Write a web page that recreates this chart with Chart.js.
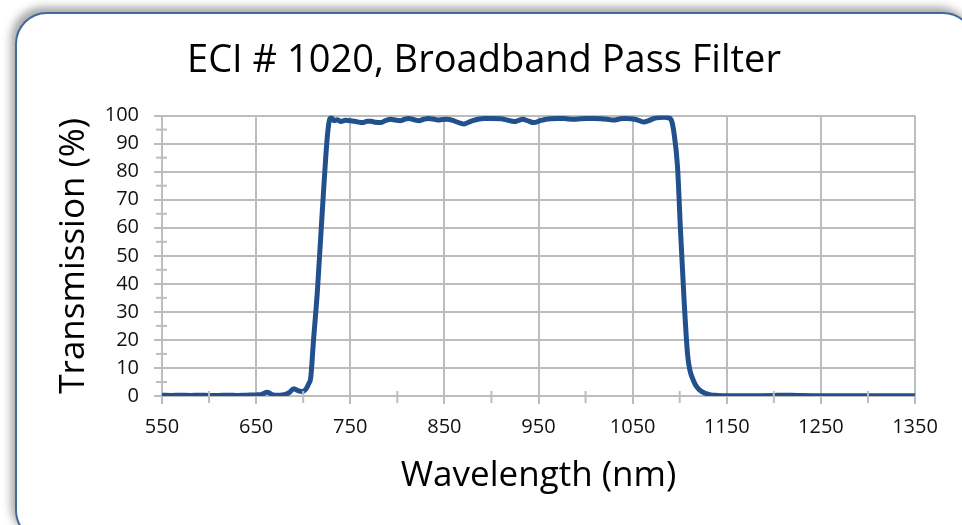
<!DOCTYPE html>
<html>
<head>
<meta charset="utf-8">
<script src="https://cdn.jsdelivr.net/npm/chart.js@4/dist/chart.umd.min.js"></script>
<style>
  html, body { margin: 0; padding: 0; background: #ffffff; }
  body { width: 962px; height: 525px; position: relative; overflow: hidden; }
  .frame {
    position: absolute; left: 15px; top: 12px; width: 960px; height: 530px;
    box-sizing: border-box; border: 2px solid #41699b; border-radius: 32px;
    background: #fff; box-shadow: -4px -5px 9px rgba(0,0,0,0.35);
  }
  #wrap { position: absolute; left: 0; top: 0; width: 962px; height: 525px; }
</style>
</head>
<body>
<div class="frame"></div>
<div id="wrap"><canvas id="filterChart"></canvas></div>
<script>
const wavelengths = [550, 560, 570, 580, 590, 600, 610, 620, 630, 640, 650, 655, 662, 668, 675, 680, 685, 690, 695, 699,
  703, 706, 708, 711, 715, 718.5, 722, 725.5, 728, 730, 733, 736, 740, 745, 750, 757, 763, 768, 772, 777,
  782, 788, 793, 798, 803, 808, 812, 818, 823, 828, 833, 838, 843, 848, 853, 858, 862, 867, 871, 876,
  882, 887, 892, 900, 910, 917, 924, 929, 933, 939, 945, 952, 958, 963, 970, 977, 982, 988, 995, 1002,
  1009, 1016, 1023, 1030, 1036, 1041, 1046, 1052, 1057, 1062, 1067, 1073, 1078, 1084, 1088, 1091, 1094, 1097.7, 1101, 1104.7,
  1108.4, 1111, 1114, 1117, 1121, 1127, 1133, 1140, 1151, 1175, 1200, 1210, 1225, 1250, 1275, 1300, 1325, 1350];
const transmission = [0.3, 0.2, 0.3, 0.2, 0.3, 0.2, 0.2, 0.3, 0.2, 0.3, 0.4, 0.5, 1.3, 0.4, 0.3, 0.5, 1.2, 2.6, 1.8, 1.6,
  2.5, 4.5, 6.5, 20, 37, 56, 75, 92, 98.5, 99.2, 98.2, 98.5, 97.9, 98.3, 98.2, 97.8, 97.5, 98, 98, 97.6,
  97.5, 98.3, 98.7, 98.4, 98.2, 98.7, 99, 98.5, 98.2, 98.7, 99, 98.8, 98.4, 98.6, 98.7, 98.4, 97.9, 97.3, 97, 97.7,
  98.4, 98.8, 99, 99, 98.9, 98.4, 97.9, 98.3, 98.7, 98.1, 97.5, 98.2, 98.7, 98.9, 99, 99, 98.8, 98.7, 98.9, 99,
  99, 98.9, 98.7, 98.4, 98.8, 99, 98.9, 98.7, 98.2, 97.7, 98.2, 99, 99.3, 99.4, 99.2, 98.5, 93.7, 81.7, 58, 34,
  14.7, 9, 6, 3.8, 2.2, 1, 0.4, 0.2, 0.1, 0.1, 0.2, 0.3, 0.2, 0.1, 0.1, 0.1, 0.1, 0.1];

const xTickValues = [550, 650, 750, 850, 950, 1050, 1150, 1250, 1350];
const yTickValues = [0, 10, 20, 30, 40, 50, 60, 70, 80, 90, 100];
const xMinorTicks = [600, 700, 800, 900, 1000, 1100, 1200, 1300];
const yMinorTicks = [5, 15, 25, 35, 45, 55, 65, 75, 85, 95];

const chartTitle = 'ECI # 1020, Broadband Pass Filter';
const xTitle = 'Wavelength (nm)';
const yTitle = 'Transmission (%)';

const gridColor = '#bdbdbd';
const lineColor = '#22508c';
const fontFamily = '"Open Sans", "Noto Sans", sans-serif';

// small tick marks that cross the axes, like the original spreadsheet chart
const minorTicks = {
    id: 'minorTicks',
    afterDraw(chart) {
        const { ctx, chartArea, scales } = chart;
        ctx.save();
        ctx.strokeStyle = gridColor;
        ctx.lineWidth = 2;
        yMinorTicks.forEach(v => {
            const y = scales.y.getPixelForValue(v);
            ctx.beginPath();
            ctx.moveTo(chartArea.left - 6, y);
            ctx.lineTo(chartArea.left + 5, y);
            ctx.stroke();
        });
        xMinorTicks.forEach(v => {
            const x = scales.x.getPixelForValue(v);
            ctx.beginPath();
            ctx.moveTo(x, chartArea.bottom - 5);
            ctx.lineTo(x, chartArea.bottom + 7);
            ctx.stroke();
        });
        ctx.restore();
    }
};

const points = wavelengths.map((w, i) => ({ x: w, y: transmission[i] }));

new Chart(document.getElementById('filterChart'), {
    type: 'line',
    data: {
        datasets: [{
            label: 'Transmission',
            data: points,
            borderColor: lineColor,
            borderWidth: 5,
            pointRadius: 0,
            cubicInterpolationMode: 'monotone',
            fill: false
        }]
    },
    options: {
        responsive: true,
        maintainAspectRatio: false,
        animation: false,
        layout: { padding: { left: 53, right: 47, top: 30, bottom: 28 } },
        plugins: {
            legend: { display: false },
            tooltip: { enabled: false },
            title: {
                display: true,
                text: chartTitle,
                color: '#000',
                font: { family: fontFamily, size: 38, weight: 'normal' },
                padding: { top: 8, bottom: 32 }
            }
        },
        scales: {
            x: {
                type: 'linear',
                min: 550,
                max: 1350,
                afterBuildTicks: s => { s.ticks = xTickValues.map(v => ({ value: v })); },
                grid: { color: gridColor, lineWidth: 2, tickLength: 8 },
                border: { display: false },
                ticks: {
                    color: '#111',
                    font: { family: fontFamily, size: 20 },
                    padding: 11,
                    maxRotation: 0,
                    autoSkip: false,
                    callback: v => String(v)
                },
                title: {
                    display: true,
                    text: xTitle,
                    color: '#000',
                    font: { family: fontFamily, size: 35 },
                    padding: { top: 5, bottom: 0 }
                }
            },
            y: {
                min: 0,
                max: 100,
                afterBuildTicks: s => { s.ticks = yTickValues.map(v => ({ value: v })); },
                afterFit: s => { s.width = 109; },
                grid: { color: gridColor, lineWidth: 2, tickLength: 8 },
                border: { display: false },
                ticks: {
                    color: '#111',
                    font: { family: fontFamily, size: 20 },
                    padding: 15,
                    autoSkip: false,
                    callback: v => String(v)
                },
                title: {
                    display: true,
                    text: yTitle,
                    color: '#000',
                    font: { family: fontFamily, size: 35 },
                    padding: { top: 0, bottom: 0 }
                }
            }
        }
    },
    plugins: [minorTicks]
});
</script>
</body>
</html>
